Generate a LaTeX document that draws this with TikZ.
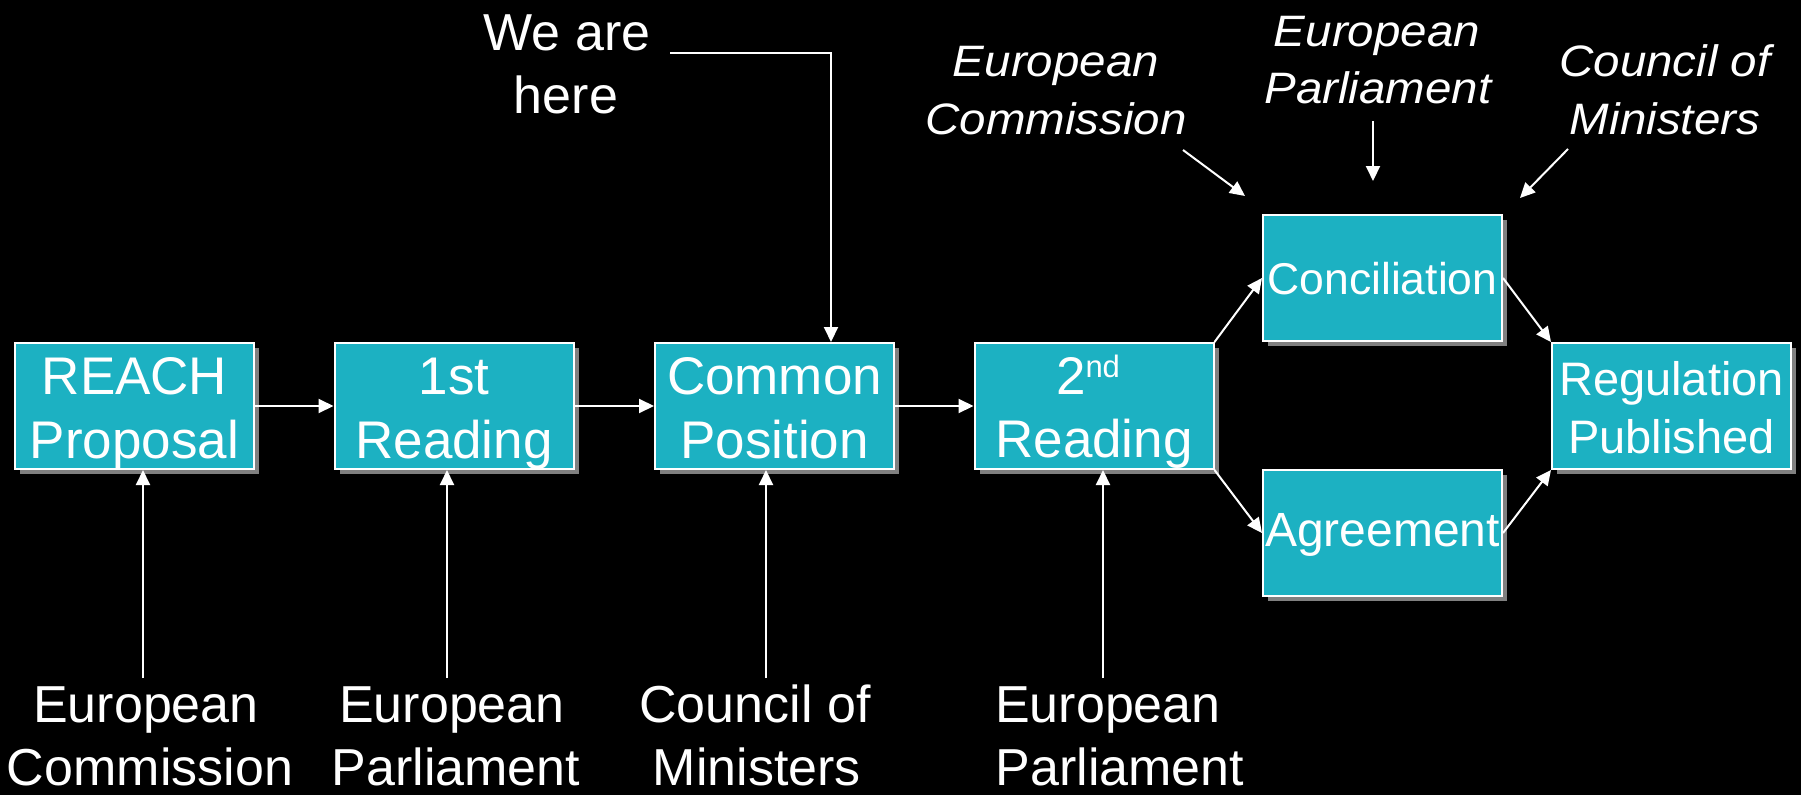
\documentclass[tikz,border=0pt]{standalone}
\usepackage{fontspec}
\setmainfont{Liberation Sans}
\newfontfamily\itlab{Liberation Sans}[FakeStretch=1.08]
\usetikzlibrary{shadows,arrows.meta}
\definecolor{boxcol}{RGB}{28,177,194}
\definecolor{shadowcol}{RGB}{128,128,128}
\begin{document}
\begin{tikzpicture}[x=1pt,y=-1pt,
  stepbox/.style={draw=white, line width=2pt, fill=boxcol, minimum width=239pt, minimum height=126pt, inner sep=0pt,
    drop shadow={shadow xshift=5pt, shadow yshift=-5pt, fill=shadowcol, opacity=1}},
  txt/.style={text=white, inner sep=0pt, anchor=base, font=\fontsize{53}{64}\selectfont},
  midtxt/.style={txt, font=\fontsize{47}{56}\selectfont},
  labtxt/.style={txt, font=\fontsize{52}{63}\selectfont},
  ittxt/.style={txt, font=\itlab\itshape\fontsize{44}{52}\selectfont},
  conn/.style={draw=white, line width=2pt, -{Triangle[length=15pt,width=14pt]}}]
\fill[black] (0,0) rectangle (1801,795);
\useasboundingbox (0,0) rectangle (1801,795);

% boxes
\node[stepbox] (b1) at (134.5,406) {};
\node[stepbox] (b2) at (454,406) {};
\node[stepbox] (b3) at (774.5,406) {};
\node[stepbox] (b4) at (1094,406) {};
\node[stepbox] (b5) at (1382.5,278) {};
\node[stepbox] (b6) at (1382.5,533) {};
\node[stepbox] (b7) at (1671.5,406) {};

% box texts
\node[txt] (t1a) at (134.5,394) {REACH};
\node[txt] (t1b) at (134.5,458) {Proposal};
\node[txt] (t2a) at (454,394) {1st};
\node[txt] (t2b) at (454,458) {Reading};
\node[txt] (t3a) at (774.5,394) {Common};
\node[txt] (t3b) at (774.5,458) {Position};
\node[txt] (t4a) at (1088,394) {2\raisebox{17pt}{\fontsize{31}{31}\selectfont nd}};
\node[txt] (t4b) at (1094,457) {Reading};
\node[midtxt, font=\fontsize{44.5}{56}\selectfont] (t5) at (1382.5,294) {Conciliation};
\node[midtxt, font=\fontsize{48}{56}\selectfont] (t6) at (1382.5,546) {Agreement};
\node[midtxt] (t7a) at (1671.5,395) {Regulation};
\node[midtxt] (t7b) at (1671.5,453) {Published};

% flow connectors
\draw[conn] (b1.east) -- (b2.west);
\draw[conn] (b2.east) -- (b3.west);
\draw[conn] (b3.east) -- (b4.west);
\draw[conn] (b4.north east) -- (b5.west);
\draw[conn] (b4.south east) -- (b6.west);
\draw[conn] (b5.east) -- (b7.north west);
\draw[conn] (b6.east) -- (b7.south west);

% bottom labels
\node[labtxt] (l1a) at (146,722) {European};
\node[labtxt] (l1b) at (150,785) {Commission};
\node[labtxt] (l2a) at (452,722) {European};
\node[labtxt] (l2b) at (456,785) {Parliament};
\node[labtxt] (l3a) at (755,722) {Council of};
\node[labtxt] (l3b) at (757,785) {Ministers};
\node[labtxt] (l4a) at (1108,722) {European};
\node[labtxt] (l4b) at (1120,785) {Parliament};

\coordinate (s1) at (143,678);
\coordinate (s2) at (447,678);
\coordinate (s3) at (766,678);
\coordinate (s4) at (1103,678);
\draw[conn] (s1) -- (b1.south -| s1);
\draw[conn] (s2) -- (b2.south -| s2);
\draw[conn] (s3) -- (b3.south -| s3);
\draw[conn] (s4) -- (b4.south -| s4);

% we are here
\node[labtxt] (wa) at (567,50) {We are};
\node[labtxt] (wb) at (566,113) {here};
\coordinate (w1) at (670,53);
\draw[conn] (w1) -| ([xshift=56.5pt]b3.north);

% top italic labels
\node[ittxt] (i1a) at (1056,76) {European};
\node[ittxt] (i1b) at (1056,134) {Commission};
\node[ittxt] (i2a) at (1377,46) {European};
\node[ittxt] (i2b) at (1378,103) {Parliament};
\node[ittxt] (i3a) at (1665,76) {Council of};
\node[ittxt] (i3b) at (1665,134) {Ministers};

\coordinate (c1s) at (1183,150);
\coordinate (c1e) at (1245,196);
\coordinate (c2s) at (1373,121);
\coordinate (c2e) at (1373,181);
\coordinate (c3s) at (1568,149);
\coordinate (c3e) at (1520,198);
\draw[conn] (c1s) -- (c1e);
\draw[conn] (c2s) -- (c2e);
\draw[conn] (c3s) -- (c3e);
\end{tikzpicture}
\end{document}
